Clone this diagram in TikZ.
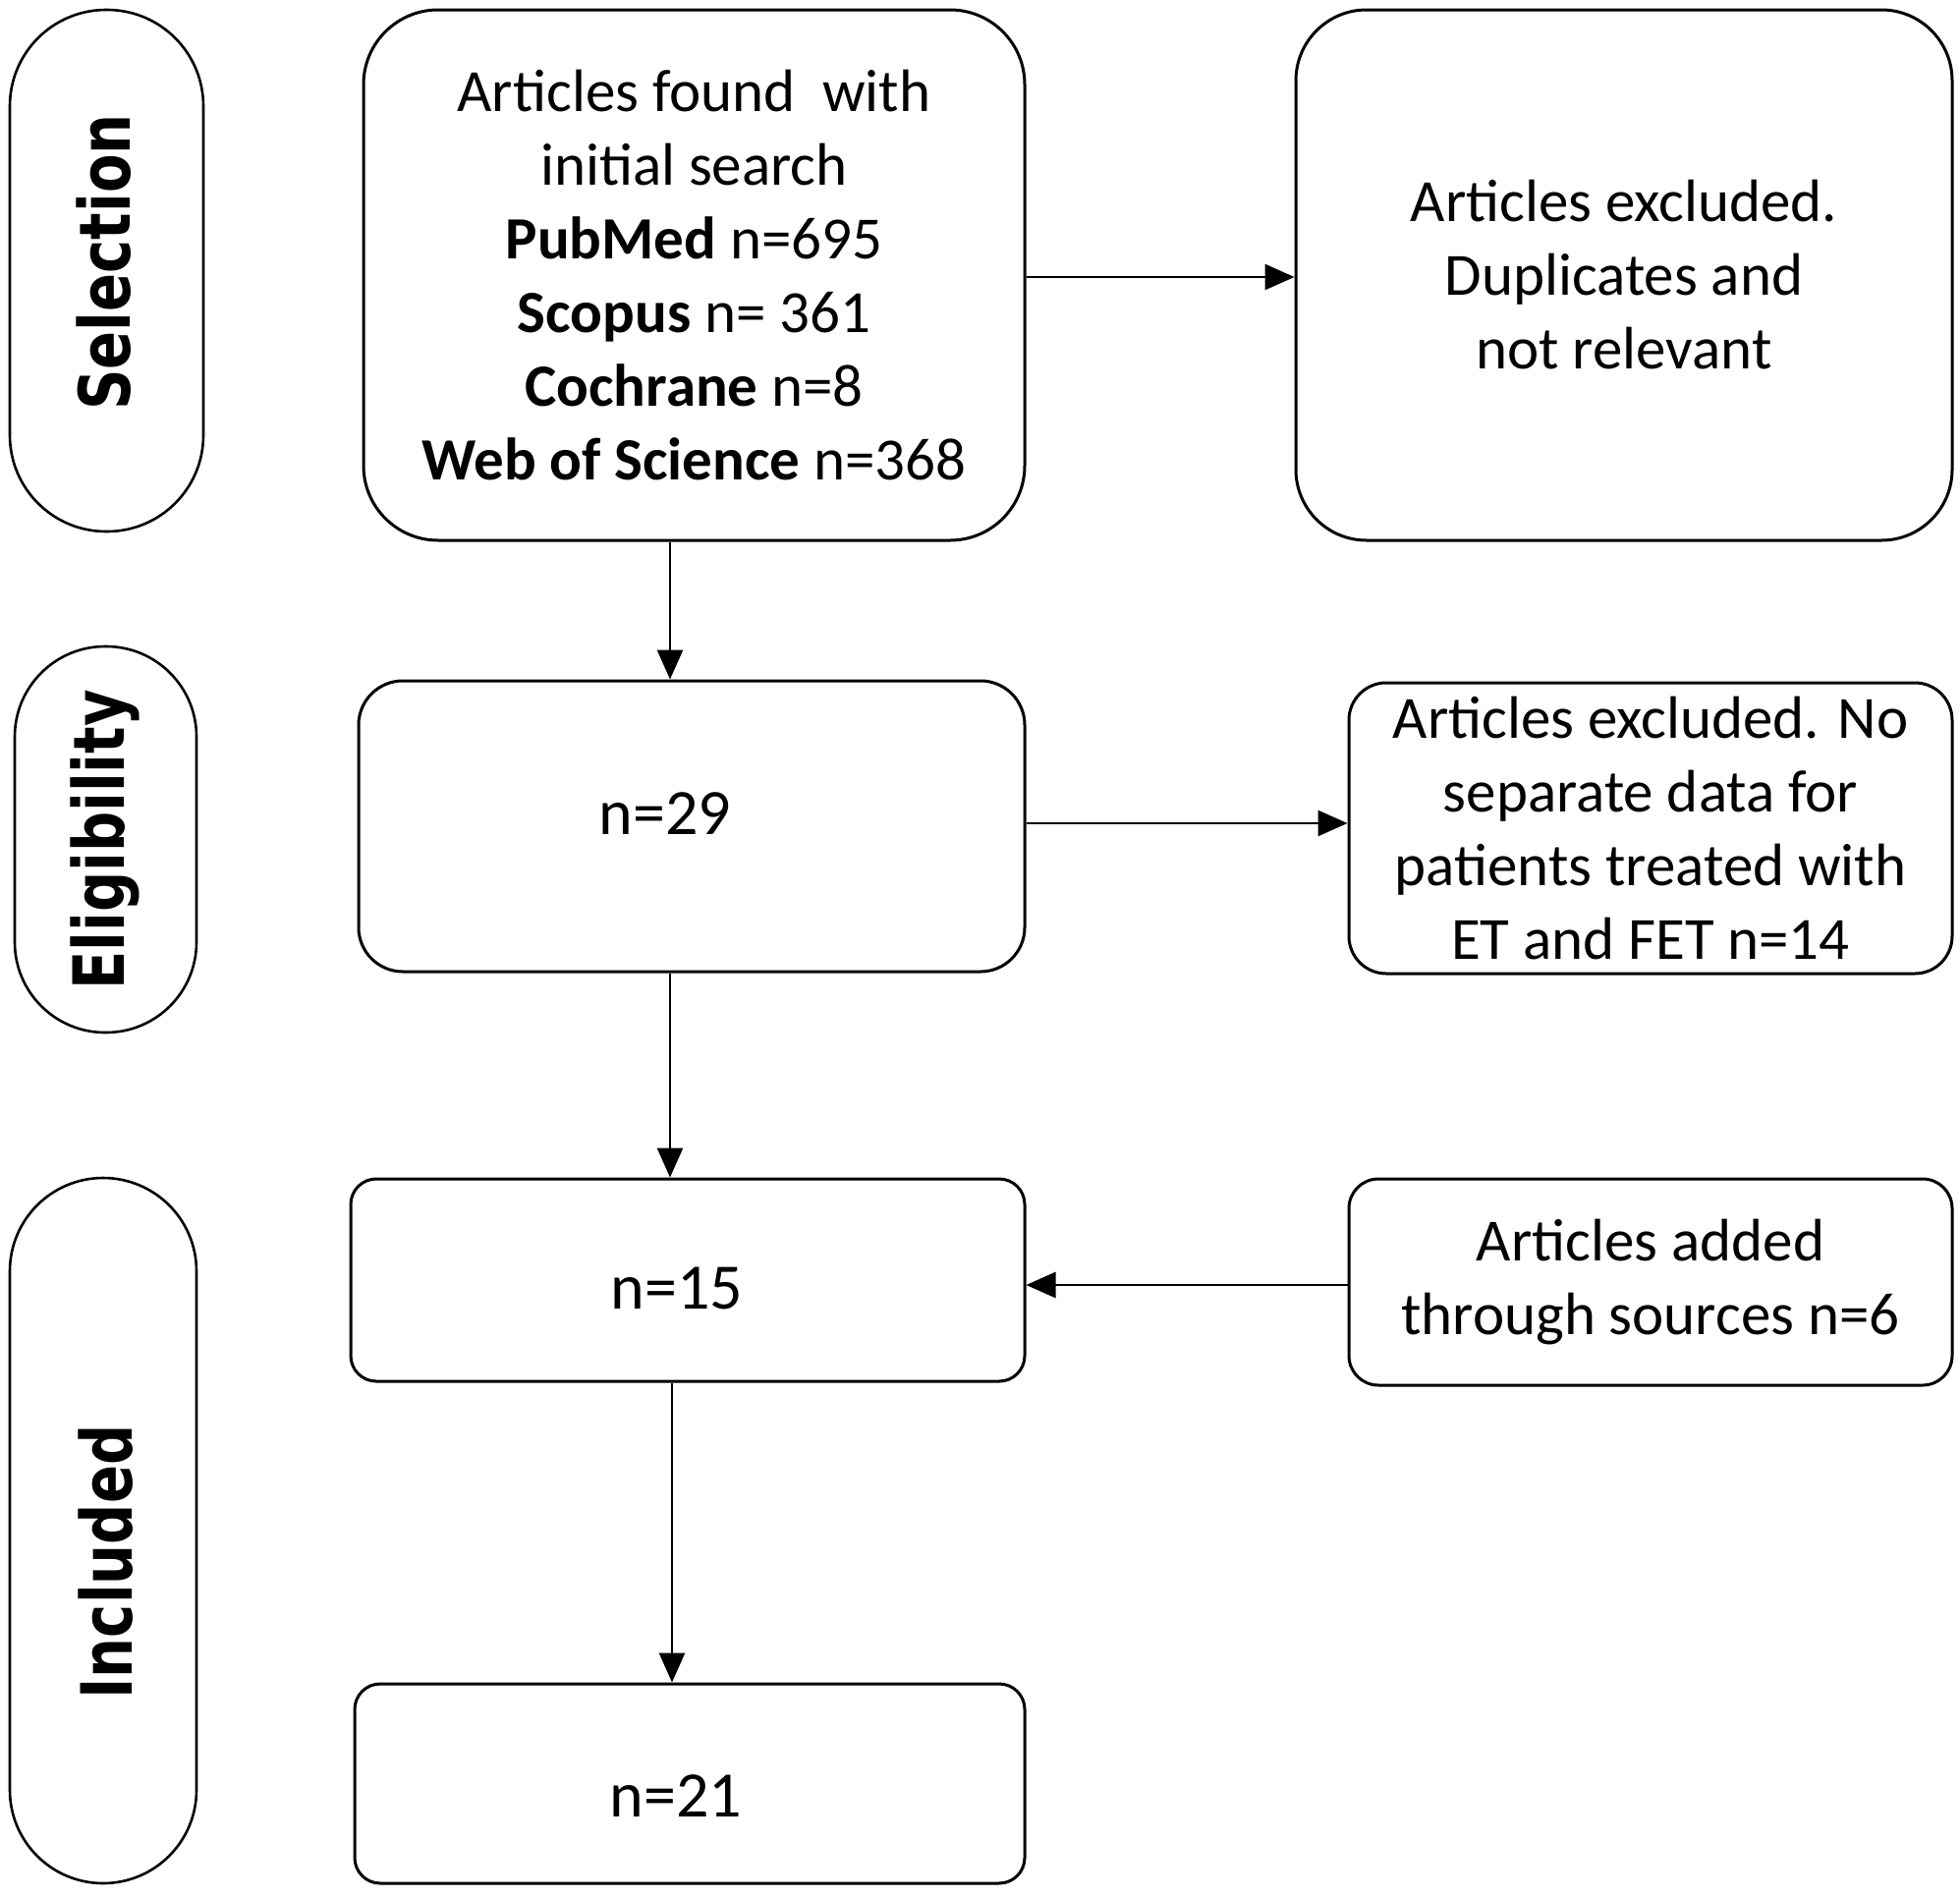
\documentclass[tikz,border=0pt]{standalone}
\usepackage{fontspec}
\setmainfont{Carlito}
\newfontfamily\labfont{DejaVu Sans}
\usetikzlibrary{arrows.meta}
\begin{document}
\begin{tikzpicture}[x=1pt,y=-1pt,
  box/.style={draw, line width=3pt, inner sep=0pt, align=center, font=\fontsize{61}{75}\selectfont},
  nbox/.style={box, font=\fontsize{66}{80}\selectfont},
  oval/.style={draw, line width=2.6pt, inner sep=0pt},
  lab/.style={rotate=90, font=\labfont\bfseries\fontsize{72}{80}\selectfont, inner sep=0pt},
  arr/.style={line width=2.8pt, -{Triangle[length=30pt,width=26pt]}}]
\useasboundingbox (0,0) rectangle (1995,1931);
% phase ovals
\node[oval, rounded corners=98pt, minimum width=197pt, minimum height=531pt] (sel) at (108.5,275.5) {};
\node[oval, rounded corners=92pt, minimum width=185pt, minimum height=393pt] (eli) at (107.5,854.5) {};
\node[oval, rounded corners=95pt, minimum width=190pt, minimum height=718pt] (inc) at (105,1558) {};
\node[lab] (selt) at (106,267) {\scalebox{0.8}[1]{Selection}};
\node[lab] (elit) at (107,855) {\scalebox{0.8}[1]{Eligibility}};
\node[lab] (inct) at (108,1590) {\scalebox{0.8}[1]{Included}};
% main boxes
\node[box, rounded corners=76pt, minimum width=673pt, minimum height=540pt] (b1) at (706.5,280)
  {Articles found\ \ with\\ initial search\\ \textbf{PubMed} n=695\\ \textbf{Scopus} n= 361\\ \textbf{Cochrane} n=8\\ \textbf{Web of Science} n=368};
\node[box, rounded corners=72pt, minimum width=668pt, minimum height=540pt] (e1) at (1653,280)
  {Articles excluded.\\ Duplicates and\\ not relevant};
\node[nbox, rounded corners=45pt, minimum width=678pt, minimum height=296pt] (b2) at (704,841) {\raisebox{13pt}[\height][\depth]{n=29}\hspace*{54pt}};
\node[box, rounded corners=38pt, minimum width=614pt, minimum height=296pt] (e2) at (1680,843)
  {Articles excluded. No\\ separate data for\\ patients treated with\\ ET and FET n=14};
\node[nbox, rounded corners=26pt, minimum width=686pt, minimum height=206pt] (b3) at (700,1303) {\raisebox{-8pt}[\height][\depth]{n=15}\hspace*{22pt}};
\node[box, rounded corners=30pt, minimum width=614pt, minimum height=210pt] (ad) at (1680,1305)
  {Articles added\\ through sources n=6};
\node[nbox, rounded corners=26pt, minimum width=682pt, minimum height=203pt] (b4) at (702,1815.5) {\raisebox{-13pt}[\height][\depth]{n=21}\hspace*{28pt}};
% connector guides
\coordinate (ya) at (0,282);
\coordinate (yb) at (0,838);
\coordinate (yc) at (0,1308);
\coordinate (xa) at (682,0);
\coordinate (xb) at (684,0);
% connectors
\draw[arr] (b1.east |- ya) -- (e1.west |- ya);
\draw[arr] (b1.south -| xa) -- (b2.north -| xa);
\draw[arr] (b2.east |- yb) -- (e2.west |- yb);
\draw[arr] (b2.south -| xa) -- (b3.north -| xa);
\draw[arr] (ad.west |- yc) -- (b3.east |- yc);
\draw[arr] (b3.south -| xb) -- (b4.north -| xb);
\end{tikzpicture}
\end{document}
